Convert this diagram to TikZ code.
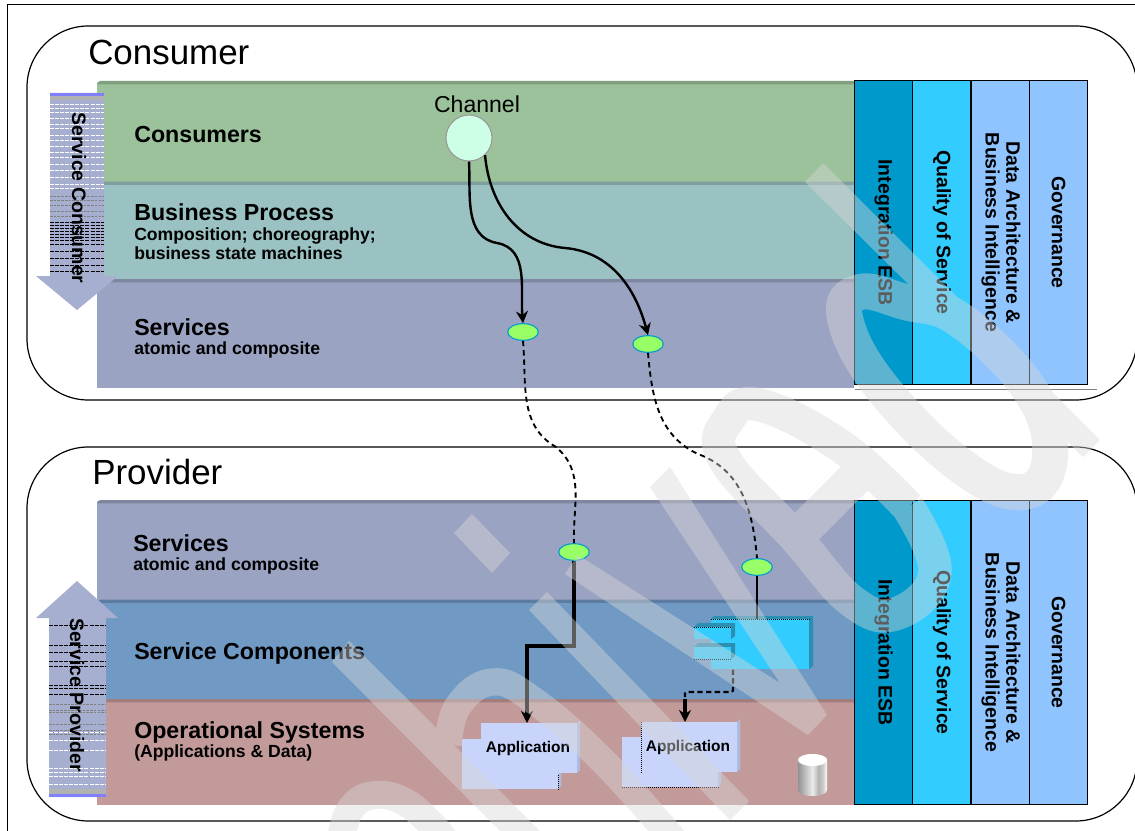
\documentclass[tikz,border=0pt]{standalone}
\usepackage{fontspec}
\usepackage{graphicx}
\setmainfont{Liberation Sans}
\usetikzlibrary{positioning,arrows.meta,shapes.geometric}
\definecolor{greenband}{HTML}{9BC29A}
\definecolor{tealband}{HTML}{9BC2C2}
\definecolor{slateband}{HTML}{9BA3C2}
\definecolor{blueband}{HTML}{7099C4}
\definecolor{roseband}{HTML}{C39A9A}
\definecolor{colone}{HTML}{0099CC}
\definecolor{coltwo}{HTML}{33CCFF}
\definecolor{colthree}{HTML}{8FC4FF}
\definecolor{arrowfill}{HTML}{A6AFCF}
\definecolor{appfill}{HTML}{C8D4FA}
\definecolor{appedge}{HTML}{AEBBE0}
\definecolor{compedge}{HTML}{2A8FB0}
\definecolor{portfill}{HTML}{99FF66}
\definecolor{chanfill}{HTML}{CCFFE6}
\definecolor{wmark}{gray}{0.847}
\pgfdeclarehorizontalshading{drum}{100bp}{color(0bp)=(gray!85); color(25bp)=(gray!85); color(50bp)=(gray!15); color(60bp)=(gray!60); color(68bp)=(gray!40); color(75bp)=(white); color(100bp)=(white)}
\begin{document}
\begin{tikzpicture}[x=.75pt,y=-.75pt,>={Stealth[length=9pt,width=9pt]},
    band node/.style={rectangle,anchor=north west,minimum width=567.75pt,inner sep=0pt},
    band label/.style={anchor=west,inner sep=0pt,align=left,font=\bfseries\fontsize{17.4}{20}\selectfont},
    band sub/.style={anchor=west,inner sep=0pt,align=left,font=\bfseries\fontsize{13.2}{14.3}\selectfont},
    col node/.style={rectangle,draw=black,line width=.9pt,minimum width=43.75pt,minimum height=227.5pt,inner sep=0pt,font=\bfseries\fontsize{14.6}{15.5}\selectfont},
    title node/.style={anchor=west,inner sep=0pt,font=\fontsize{26.2}{30}\selectfont},
    side node/.style={rotate=-90,inner sep=0pt,font=\bfseries\fontsize{14.6}{17}\selectfont},
    port node/.style={ellipse,draw=colone,line width=.8pt,fill=portfill,minimum width=23pt,minimum height=12.5pt,inner sep=0pt},
    app node/.style={rectangle,fill=appfill,minimum width=72pt,minimum height=37.5pt,inner sep=0pt,anchor=north west},
    comp node/.style={rectangle,fill=coltwo,inner sep=0pt,anchor=north west},
    frame/.style={draw=black,line width=.9pt,rounded corners=46pt}]
    \useasboundingbox (0,0) rectangle (1135,831);
    \clip (0,0) rectangle (1135,831);
    \fill[white] (0,0) rectangle (1135,831);
    \draw[line width=.75pt] (7,831) -- (7,5) -- (1135,5);

    \draw[frame] (27,26) rectangle (1137,400);
    \draw[frame] (27,447) rectangle (1137,821);
    \node[title node] (consumer) at (88,52) {Consumer};
    \node[title node] (provider) at (92,472) {Provider};

    \node[band node,fill=greenband,minimum height=75pt] (consumers) at (97,83) {};
    \node[band node,fill=tealband,minimum height=72.75pt,below=0pt of consumers] (process) {};
    \node[band node,fill=slateband,minimum height=80.25pt,below=0pt of process] (services) {};
    \node[band node,fill=slateband,minimum height=74.25pt] (pservices) at (97,502) {};
    \node[band node,fill=blueband,minimum height=74.25pt,below=0pt of pservices] (components) {};
    \node[band node,fill=roseband,minimum height=78pt,below=0pt of components] (systems) {};

    \foreach \b/\c in {consumers/greenband,process/tealband,services/slateband,pservices/slateband,components/blueband,systems/roseband}
        \fill[\c!82!black] (\b.north west) -- ++(3,-2) -- ([yshift=1.5pt]\b.north east) -- ([yshift=-1pt]\b.north east) -- ([yshift=-1pt]\b.north west) -- cycle;

    \node[band label] (lconsumers) at (134,135) {Consumers};
    \node[band label] (lprocess) at (134,212) {Business Process};
    \node[band sub] (sprocess) at (134,244) {Composition; choreography;\\business state machines};
    \node[band label] (lservices) at (134,327) {Services};
    \node[band sub] (sservices) at (134,350) {atomic and composite};
    \node[band label] (lpservices) at (133,543) {Services};
    \node[band sub] (spservices) at (133,566) {atomic and composite};
    \node[band label] (lcomponents) at (134,653) {Service Components};
    \node[band label] (lsystems) at (134,732) {Operational Systems};
    \node[band sub] (ssystems) at (134,753) {(Applications \& Data)};

    \node[col node,fill=colone] (a1) at (883.5,232.5) {\rotatebox{-90}{Integration ESB}};
    \node[col node,fill=coltwo,right=-.9pt of a1] (a2) {\rotatebox{-90}{Quality of Service}};
    \node[col node,fill=colthree,right=-.9pt of a2] (a3) {\rotatebox{-90}{\begin{tabular}{@{}c@{}}Data Architecture \&\\Business Intelligence\end{tabular}}};
    \node[col node,fill=colthree,right=-.9pt of a3] (a4) {\rotatebox{-90}{Governance}};
    \node[col node,fill=colone] (b1) at (883.5,652.5) {\rotatebox{-90}{Integration ESB}};
    \node[col node,fill=coltwo,right=-.9pt of b1] (b2) {\rotatebox{-90}{Quality of Service}};
    \node[col node,fill=colthree,right=-.9pt of b2] (b3) {\rotatebox{-90}{\begin{tabular}{@{}c@{}}Data Architecture \&\\Business Intelligence\end{tabular}}};
    \node[col node,fill=colthree,right=-.9pt of b3] (b4) {\rotatebox{-90}{Governance}};
    \draw[gray,line width=.4pt] (855,389) -- (1097,389);

    \fill[arrowfill] (50,93) -- (104,93) -- (104,276) -- (118,276) -- (77,310) -- (36,276) -- (50,276) -- cycle;
    \fill[arrowfill] (49,797) -- (106,797) -- (106,618) -- (118,618) -- (77,581) -- (36,618) -- (49,618) -- cycle;
    \fill[blue!50] (50,93) rectangle (104,96);
    \fill[gray!60] (50,96) rectangle (104,100);
    \fill[blue!50] (49,794) rectangle (106,797);
    \fill[gray!60] (49,789) rectangle (106,794);
    \foreach \y in {104,108,112,118,124,128,135,140,146,152,157,164,170,177,184,188}
        \draw[white,line width=.5pt,dash pattern=on 3pt off .8pt] (50,\y) -- (104,\y);
    \foreach \y in {196,200,205,211,216}
        \draw[gray,line width=.5pt,dash pattern=on 2pt off .8pt] (50,\y) -- (104,\y);
    \foreach \y in {222,225,228,231,234,237,240,244,251,258,265,271}
        \draw[black,line width=.5pt,dash pattern=on 3pt off .8pt] (50,\y) -- (104,\y);
    \foreach \y in {625,645,652,661,666,685,688,694}
        \draw[black,line width=.5pt,dash pattern=on 3pt off .8pt] (49,\y) -- (106,\y);
    \foreach \y in {704,710,712,724,730,732,734}
        \draw[gray,line width=.5pt,dash pattern=on 2pt off .8pt] (49,\y) -- (106,\y);
    \foreach \y in {732,740,750,768,772,776,784}
        \draw[white,line width=.5pt,dash pattern=on 3pt off .8pt] (49,\y) -- (106,\y);
    \node[side node] (sconsumer) at (79,198) {Service Consumer};
    \node[side node] (sprovider) at (77,695) {Service Provider};

    \node[circle,draw=gray!80,line width=.8pt,fill=chanfill,minimum size=34.5pt,inner sep=0pt] (channel) at (469,138) {};
    \node[inner sep=0pt,font=\fontsize{17.3}{20}\selectfont] (lchannel) at (477,104) {Channel};

    \node[port node] (p1) at (523,332) {};
    \node[port node] (p2) at (648,344) {};
    \node[port node] (p3) at (574,552) {};
    \node[port node] (p4) at (757,567) {};

    \foreach \n/\x/\y in {back1/462/739,front1/481/723,back2/622/737,front2/641/722}{
        \fill[appedge] (\x+96,\y) -- ++(3,-3) -- ++(0,50) -- ++(-3,3) -- cycle;
        \node[app node] (\n) at (\x,\y) {};
    }
    \node[font=\bfseries\fontsize{11.6}{14}\selectfont,inner sep=0pt] (app1) at (528,748) {Application};
    \node[font=\bfseries\fontsize{11.6}{14}\selectfont,inner sep=0pt] (app2) at (688,747) {Application};
    \draw[line width=.5pt,densely dotted] (back2.south west) -- (back2.south east);
    \draw[line width=.5pt,densely dotted] (front2.north west) -- (front2.south west);
    \draw[line width=.5pt,densely dotted] (back1.south east) -- ++(0,-16);

    \fill[compedge] (711,619) -- (714,616) -- (813,616) -- (813,666) -- (809,669) -- (809,619) -- cycle;
    \node[comp node,minimum width=73.5pt,minimum height=37.5pt] (comp) at (711,619) {};
    \foreach \n/\y in {port1/627,port2/647}{
        \fill[compedge] (694,\y) -- (698,\y-4) -- (735,\y-4) -- (735,\y+9) -- (731,\y+12) -- (731,\y) -- cycle;
        \node[comp node,minimum width=27.75pt,minimum height=9pt] (\n) at (694,\y) {};
    }
    \draw[line width=.5pt,densely dotted] (comp.north west) -- (comp.north east);
    \draw[line width=.5pt,densely dotted] (port1.north west) -- (port1.north east);
    \draw[line width=.5pt,densely dotted] (port2.south west) -- (port2.south east);

    \shade[shading=drum] (798,760) -- (798,790) arc[start angle=180,end angle=360,x radius=10.9pt,y radius=4.5pt] -- (827,760) arc[start angle=0,end angle=180,x radius=10.9pt,y radius=4.5pt] -- cycle;
    \fill[white] (812.5,760) ellipse [x radius=10.9pt,y radius=4.5pt];

    \coordinate (bend1) at (497,243);
    \coordinate (bend2) at (565,248);
    \coordinate (bend3) at (556,447);
    \coordinate (bend4) at (698,454);
    \coordinate (elbow1) at (574,646);
    \coordinate (elbow2) at (527,646);
    \coordinate (elbow3) at (733,692);
    \coordinate (elbow4) at (685,692);
    \draw[line width=1.8pt,->] (channel.south) to[out=-87,in=170] (bend1) to[out=-10,in=95] (p1.north);
    \draw[line width=1.8pt,->] (channel.-47) to[out=-85,in=175] (bend2) to[out=-5,in=105] (p2.north);
    \draw[line width=1.4pt,dash pattern=on 4pt off 3pt] (p1.south) to[out=-85,in=150] (bend3) to[out=-40,in=92] (p3.north);
    \draw[line width=1.4pt,dash pattern=on 4pt off 3pt] (p2.south) to[out=-85,in=155] (bend4) to[out=-20,in=95] (p4.north);
    \draw[line width=2.3pt,->] (p3.south) -- (elbow1) -- (elbow2) -- (front1.north -| elbow2);
    \draw[line width=1pt] (p4.south) -- (comp.north -| p4);
    \draw[line width=1.6pt,dash pattern=on 4pt off 2.5pt,rounded corners=1pt] (comp.south -| elbow3) -- (elbow3) -- (elbow4) -- ++(0,5);
    \draw[line width=2.3pt,->] ([yshift=-5pt]elbow4) -- (front2.north -| elbow4);

    \begin{scope}[transparency group,opacity=.43]
        \fill[wmark] (454,533) -- (472,514) -- (510,553) -- (492,573) -- cycle;
        \fill[wmark] (547,592) -- (749,801) -- (730,820) -- (529,610) -- cycle;
        \fill[wmark] (349,641) -- (550,841) -- (510,841) -- (332,662) -- cycle;
        \fill[wmark] (670,467) -- (827,715) -- (808,735) -- (565,574) -- (578,555) -- (780,683) -- (650,487) -- cycle;
        \fill[wmark] (823,163) -- (1100,440) -- (1083,457) -- (805,182) -- cycle;
        \draw[wmark,line width=20.5pt] plot[smooth,tension=.7] coordinates {(448,745) (458,706) (492,682) (533,700) (602,760) (674,840)};
        \draw[wmark,line width=21pt] plot[smooth,tension=.7] coordinates {(340,845) (350,810) (375,795) (410,805) (445,840)};
        \draw[wmark,line width=27pt] plot[smooth cycle,tension=.7] coordinates {(845,318) (860,292) (905,302) (960,320) (1030,390) (1050,456) (1023,492) (960,465) (880,385)};
        \draw[wmark,line width=25pt] plot[smooth,tension=.7] coordinates {(908,507) (935,572) (898,613) (853,602) (795,537) (725,460) (728,420) (760,405) (842,447) (908,507)};
        \draw[wmark,line width=27pt] (868,465) -- (795,538);
    \end{scope}
\end{tikzpicture}
\end{document}
